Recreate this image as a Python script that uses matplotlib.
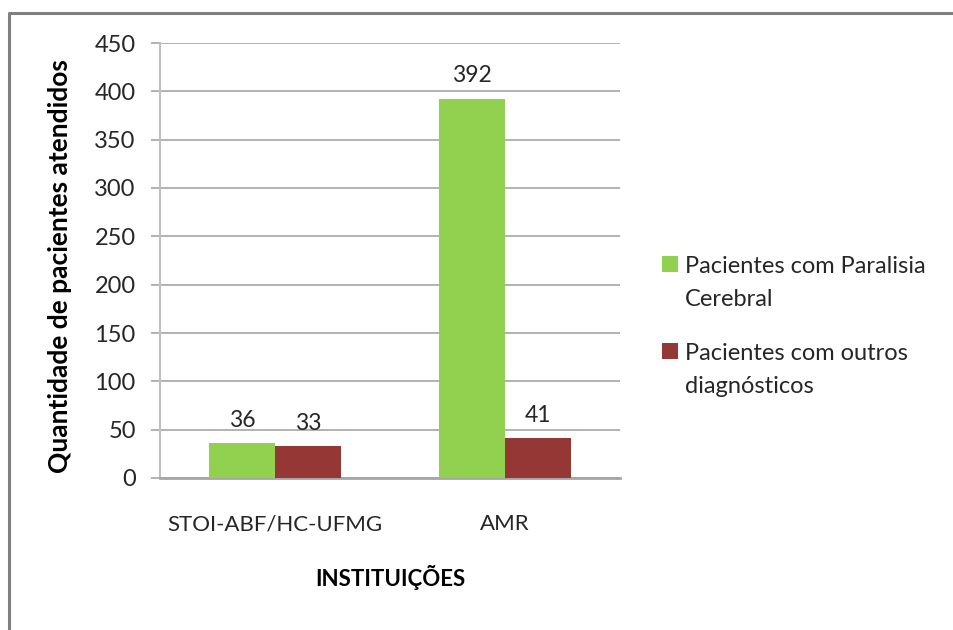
import numpy as np
import matplotlib
matplotlib.use('Agg')
import matplotlib.pyplot as plt
from matplotlib.lines import Line2D
from matplotlib.patches import Rectangle

plt.rcParams['font.family'] = ['Lato', 'DejaVu Sans']

# dados
instituicoes = ['STOI-ABF/HC-UFMG', 'AMR']
series_nomes = ['Pacientes com Paralisia\nCerebral', 'Pacientes com outros\ndiagnósticos']
paralisia = [36, 392]
outros = [33, 41]
yticks = [0, 50, 100, 150, 200, 250, 300, 350, 400, 450]

verde = '#92D050'
vermelho = '#953735'
cinza = '#A6A6A6'
texto = '#262626'

fig = plt.figure(figsize=(9.54, 6.3), dpi=100)
ax = fig.add_axes([160/954, 1-478/630, 460/954, 435/630])

x = np.arange(len(instituicoes))
w = 0.287
b1 = ax.bar(x - w/2, paralisia, w, color=verde, zorder=3)
b2 = ax.bar(x + w/2, outros, w, color=vermelho, zorder=3)

for bars in (b1, b2):
    for r in bars:
        ax.text(r.get_x() + r.get_width()/2, r.get_height() + 13, '%d' % r.get_height(),
                ha='center', va='bottom', fontsize=16.5, color=texto)

ax.set_xlim(-0.5, 1.5)
ax.set_ylim(0, 450)
ax.set_yticks(yticks)
ax.set_xticks(x)
ax.set_xticklabels(instituicoes, fontsize=16, color=texto)
ax.tick_params(axis='x', length=0, pad=26)
ax.tick_params(axis='y', length=6.5, width=1.2, color=cinza, pad=11, labelsize=17, labelcolor=texto)
ax.grid(axis='y', color=cinza, linewidth=1.2, zorder=0)

for s in ['top', 'right']:
    ax.spines[s].set_visible(False)
ax.spines['left'].set_color('#BFBFBF')
ax.spines['left'].set_linewidth(1.5)
ax.spines['bottom'].set_color(cinza)
ax.spines['bottom'].set_linewidth(2)

ax.set_xlabel('INSTITUIÇÕES', fontsize=16, fontweight='bold', color='black', labelpad=22)
fig.text(60/954, 1-266/630, 'Quantidade de pacientes atendidos', rotation=90,
         ha='center', va='center', fontsize=19, fontweight='bold', color='black')

# legenda (quadrado alinhado com a primeira linha, como no Excel)
leg_y = [272, 359]   # linha de base da primeira linha de cada item
linha = 34           # distancia entre linhas, px
for nome, cor, yb in zip(series_nomes, [verde, vermelho], leg_y):
    fig.add_artist(Rectangle((662/954, 1-yb/630), 16/954, 16/630,
                             transform=fig.transFigure, facecolor=cor, edgecolor='none'))
    n = nome.count('\n')
    fig.text(685/954, 1-(yb + n*linha)/630, nome, ha='left', va='baseline', fontsize=17,
             color=texto, linespacing=1.68)

# moldura da figura
fig.add_artist(Line2D([9/954, 9/954, 1.0], [0.0, 1-13/630, 1-13/630],
                      transform=fig.transFigure, color='#808080', linewidth=2.2))

fig.savefig('out.png', dpi=100)
